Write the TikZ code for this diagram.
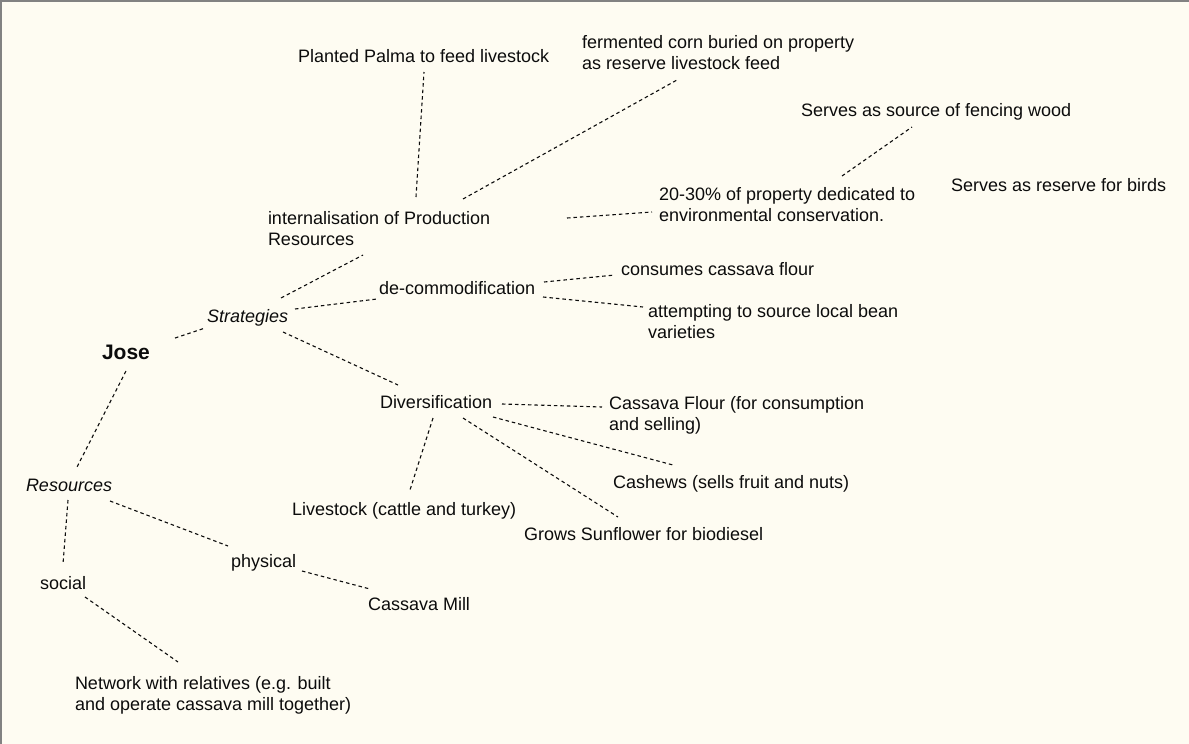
\documentclass[tikz,border=0pt]{standalone}
\usepackage{fontspec}
\setmainfont{Liberation Sans}
\usetikzlibrary{calc}
\definecolor{paper}{RGB}{254,252,242}
\definecolor{ink}{RGB}{12,12,12}
\definecolor{framegray}{RGB}{130,130,130}
% two-line label whose baseline is the first line's baseline
\newcommand{\twoline}[1]{\begin{tabular}[t]{@{}l@{}}#1\end{tabular}}
\begin{document}
\begin{tikzpicture}[x=1pt,y=-1pt,
  lbl/.style={anchor=base west, inner sep=0pt, outer sep=0pt, text=ink,
              font=\fontsize{18}{21}\selectfont},
  ital/.style={lbl, font=\fontsize{18}{21}\selectfont\itshape},
  root/.style={lbl, font=\fontsize{21}{24}\selectfont\bfseries},
  link/.style={draw=ink, line width=1.1pt, dash pattern=on 3.5pt off 3pt}]

% page
\fill[paper] (0,0) rectangle (1189,744);
\useasboundingbox (0,0) rectangle (1189,744);
\draw[framegray, line width=2pt] (1,744) -- (1,1) -- (1189,1);

% labels
\node[root] (jose)    at (102,359)   {Jose};
\node[ital] (strat)   at (207,322)   {Strategies};
\node[ital] (res)     at (26,491)    {Resources};

\node[lbl]  (intern)  at (268,224.5) {\twoline{internalisation of Production\\Resources}};
\node[lbl]  (palma)   at (298,62)    {Planted Palma to feed livestock};
\node[lbl]  (corn)    at (582,48.5)  {\twoline{fermented corn buried on property\\as reserve livestock feed}};
\node[lbl]  (cons)    at (659,200.5) {\twoline{20-30\% of property dedicated to\\environmental conservation.}};
\node[lbl]  (fence)   at (801,116.5) {Serves as source of fencing wood};
\node[lbl]  (birds)   at (951,191)   {Serves as reserve for birds};

\node[lbl]  (decom)   at (379,294.5) {de-commodification};
\node[lbl]  (flour)   at (621,275)   {consumes cassava flour};
\node[lbl]  (bean)    at (648,317)   {\twoline{attempting to source local bean\\varieties}};

\node[lbl]  (divers)  at (380,408)   {Diversification};
\node[lbl]  (cflour)  at (609,409)   {\twoline{Cassava Flour (for consumption\\and selling)}};
\node[lbl]  (cashew)  at (613,488.5) {Cashews (sells fruit and nuts)};
\node[lbl]  (sunf)    at (524,540.5) {Grows Sunflower for biodiesel};
\node[lbl]  (live)    at (292,515)   {Livestock (cattle and turkey)};

\node[lbl]  (phys)    at (231,567)   {physical};
\node[lbl]  (social)  at (40,589)    {social};
\node[lbl]  (mill)    at (368,610)   {Cassava Mill};
\node[lbl]  (network) at (75,689)    {\twoline{Network with relatives (e.g. built\\and operate cassava mill together)}};

% connectors
\draw[link] ($(jose.base west)+(73,-21)$)     -- ($(strat.base west)+(-2,6)$);
\draw[link] ($(jose.base west)+(24,12)$)      -- ($(res.base west)+(51,-24)$);

\draw[link] ($(strat.base west)+(74,-24)$)    -- ($(intern.base west)+(95,30.5)$);
\draw[link] ($(strat.base west)+(88,-13)$)    -- ($(decom.base west)+(-2,4.5)$);
\draw[link] ($(strat.base west)+(76,10)$)     -- ($(divers.base west)+(18,-23)$);

\draw[link] ($(intern.base west)+(148,-27.5)$) -- ($(palma.base west)+(126,10)$);
\draw[link] ($(intern.base west)+(195,-25.5)$) -- ($(corn.base west)+(95,31.5)$);
\draw[link] ($(intern.base west)+(299,-6.5)$)  -- ($(cons.base west)+(-7,11.5)$);
\draw[link] ($(cons.base west)+(183,-24.5)$)   -- ($(fence.base west)+(111,10.5)$);

\draw[link] ($(decom.base west)+(165,-12.5)$)  -- ($(flour.base west)+(-6,0)$);
\draw[link] ($(decom.base west)+(164,2.5)$)    -- ($(bean.base west)+(-5,-10)$);

\draw[link] ($(divers.base west)+(122,-4)$)    -- ($(cflour.base west)+(-7,-2)$);
\draw[link] ($(divers.base west)+(113,9)$)     -- ($(cashew.base west)+(60,-23.5)$);
\draw[link] ($(divers.base west)+(83,10)$)     -- ($(sunf.base west)+(94,-23.5)$);
\draw[link] ($(divers.base west)+(53,10)$)     -- ($(live.base west)+(118,-25)$);

\draw[link] ($(res.base west)+(42,9)$)         -- ($(social.base west)+(23,-25)$);
\draw[link] ($(res.base west)+(84,10)$)        -- ($(phys.base west)+(-3,-21)$);
\draw[link] ($(phys.base west)+(71,4)$)        -- ($(mill.base west)+(2,-21)$);
\draw[link] ($(social.base west)+(45,8)$)      -- ($(network.base west)+(103,-27)$);
\end{tikzpicture}
\end{document}
